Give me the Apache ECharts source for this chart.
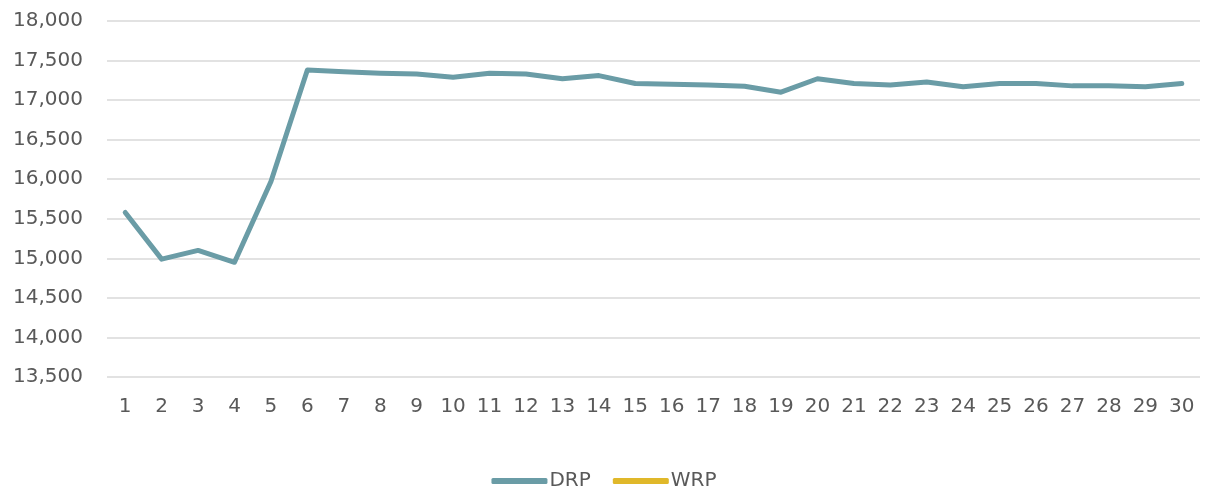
<!DOCTYPE html>
<html>
<head>
<meta charset="utf-8">
<script src="https://cdn.jsdelivr.net/npm/echarts@6/dist/echarts.min.js"></script>
<style>
  html, body { margin: 0; padding: 0; background: #fff; }
  #chart { width: 1208px; height: 496px; }
</style>
</head>
<body>
<div id="chart"></div>
<script>
// categories (days)
var days = [];
for (var d = 1; d <= 30; d++) days.push(String(d));

// values
var drp = [15580, 14990, 15100, 14950, 15970, 17380, 17360, 17340, 17330, 17290,
           17340, 17330, 17270, 17310, 17210, 17200, 17190, 17175, 17100, 17270,
           17210, 17190, 17230, 17170, 17210, 17210, 17180, 17180, 17170, 17210];
var wrp = [];

var textColor = '#595959';
var font = '"DejaVu Sans", sans-serif';

var chart = echarts.init(document.getElementById('chart'));
var option = {
    animation: false,
    grid: { left: 107, right: 8, top: 21, bottom: 119 },
    legend: {
        bottom: 0,
        left: 'center',
        icon: 'roundRect',
        itemWidth: 56,
        itemHeight: 6,
        itemGap: 22,
        textStyle: { color: textColor, fontSize: 20, fontFamily: font, padding: [0, 0, 0, -3] },
        data: ['DRP', 'WRP']
    },
    xAxis: {
        type: 'category',
        data: days,
        boundaryGap: true,
        axisLine: { show: false },
        axisTick: { show: false },
        axisLabel: { color: textColor, fontSize: 20, fontFamily: font, margin: 20, interval: 0 }
    },
    yAxis: {
        type: 'value',
        min: 13500,
        max: 18000,
        interval: 500,
        axisLine: { show: false },
        axisTick: { show: false },
        splitLine: { lineStyle: { color: '#d9d9d9', width: 1.5 } },
        axisLabel: {
            color: textColor, fontSize: 20, fontFamily: font, margin: 24,
            formatter: function (v) { return v.toLocaleString('en-US'); }
        }
    },
    series: [
        {
            name: 'DRP',
            type: 'line',
            data: drp,
            symbol: 'none',
            lineStyle: { color: '#6a9ca6', width: 5, cap: 'round', join: 'round' },
            itemStyle: { color: '#6a9ca6' }
        },
        {
            name: 'WRP',
            type: 'line',
            data: wrp,
            symbol: 'none',
            lineStyle: { color: '#e0b82a', width: 5 },
            itemStyle: { color: '#e0b82a' }
        }
    ]
};
chart.setOption(option);
</script>
</body>
</html>
